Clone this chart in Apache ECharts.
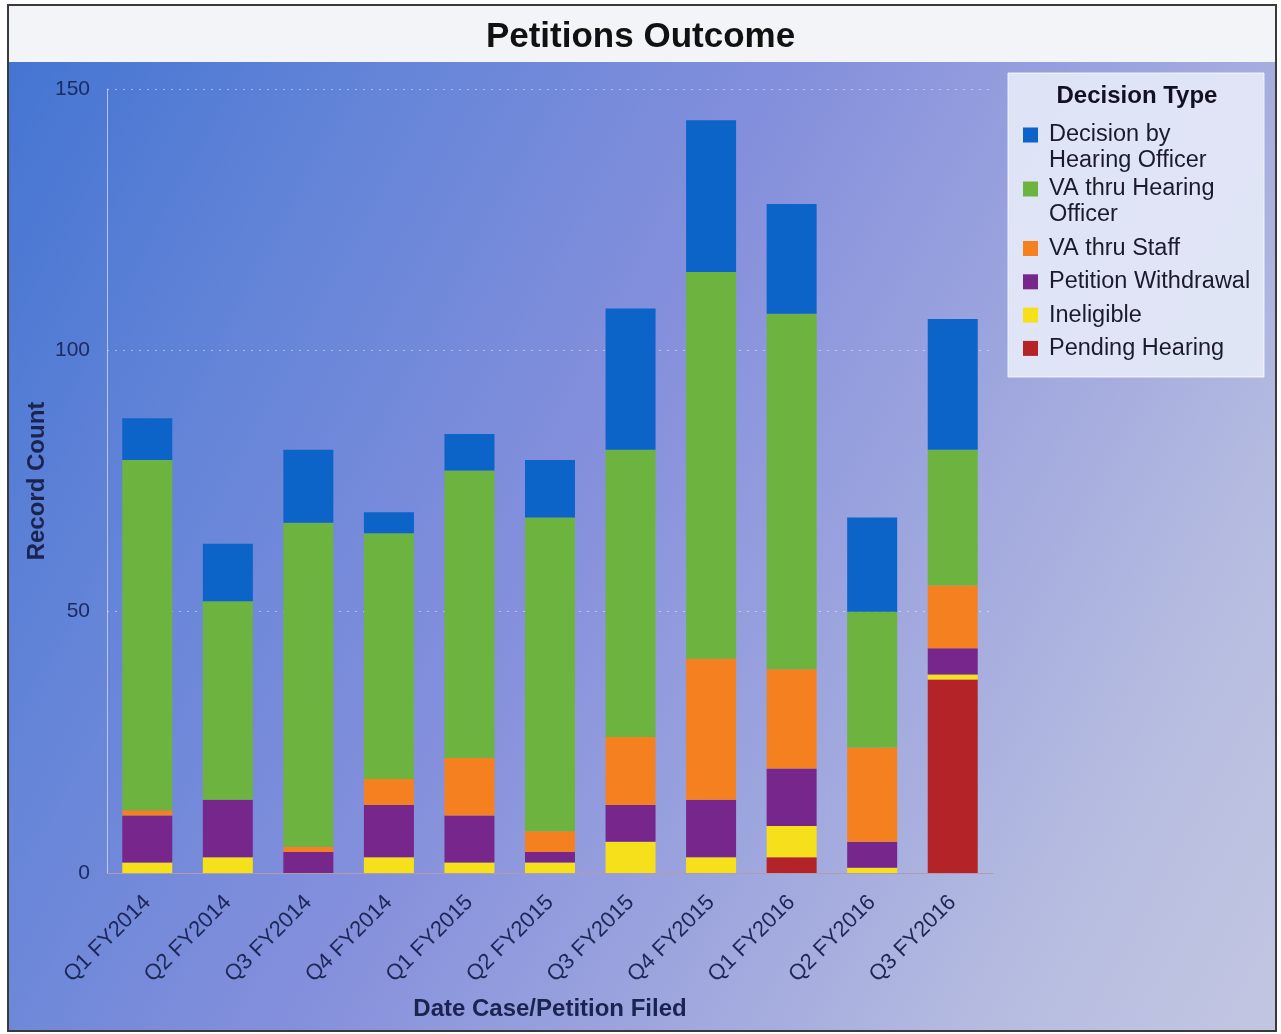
<!DOCTYPE html>
<html>
<head>
<meta charset="utf-8">
<script src="https://cdn.jsdelivr.net/npm/echarts@6/dist/echarts.min.js"></script>
<style>
  html, body { margin: 0; padding: 0; background: #ffffff; }
  #frame {
    position: absolute; left: 7px; top: 4px; width: 1266px; height: 1024px;
    border: 2px solid #3a3a3a;
    background:
      linear-gradient(#f3f4f7, #f3f4f7) 0 0 / 100% 56px no-repeat,
      linear-gradient(118deg, #4475d2 0%, #6585d8 22%, #8590dc 45%, #9ea6de 65%, #b7bde0 85%, #c2c6e2 100%) 0 56px / 100% 968px no-repeat;
  }
  #chart { position: absolute; left: 0; top: 0; width: 1281px; height: 1034px; }
</style>
</head>
<body>
<div id="frame"></div>
<div id="chart"></div>
<script>
const categories = ['Q1 FY2014','Q2 FY2014','Q3 FY2014','Q4 FY2014','Q1 FY2015','Q2 FY2015','Q3 FY2015','Q4 FY2015','Q1 FY2016','Q2 FY2016','Q3 FY2016'];
const pendingHearing     = [0, 0, 0, 0, 0, 0, 0, 0, 3, 0, 37];
const ineligible         = [2, 3, 0, 3, 2, 2, 6, 3, 6, 1, 1];
const petitionWithdrawal = [9, 11, 4, 10, 9, 2, 7, 11, 11, 5, 5];
const vaThruStaff        = [1, 0, 1, 5, 11, 4, 13, 27, 19, 18, 12];
const vaThruHearing      = [67, 38, 62, 47, 55, 60, 55, 74, 68, 26, 26];
const decisionByHearing  = [8, 11, 14, 4, 7, 11, 27, 29, 21, 18, 25];
const yTicks = [0, 50, 100, 150];

const FONT = "'Liberation Sans', Arial, sans-serif";
const names = {
  decision: 'Decision by Hearing Officer',
  vaHearing: 'VA thru Hearing Officer',
  vaStaff: 'VA thru Staff',
  withdrawal: 'Petition Withdrawal',
  ineligible: 'Ineligible',
  pending: 'Pending Hearing'
};
const colors = {
  decision: '#0c63c8',
  vaHearing: '#6db33f',
  vaStaff: '#f5801f',
  withdrawal: '#77268c',
  ineligible: '#f6e01c',
  pending: '#b42327'
};
const wrapped = {};
wrapped[names.decision] = 'Decision by\nHearing Officer';
wrapped[names.vaHearing] = 'VA thru Hearing\nOfficer';

function mk(key, data) {
  return {
    name: names[key], type: 'bar', stack: 'total', data: data,
    barWidth: 50,
    itemStyle: { color: colors[key] },
    emphasis: { disabled: true }
  };
}

const twoLineIcon = 'path://M0,0H15V15H0Z M0,40H15';
const legendText = { fontFamily: FONT, fontSize: 23.5, color: '#1b1b2c', padding: [0, 0, 0, 6] };

const chart = echarts.init(document.getElementById('chart'), null, { renderer: 'canvas' });
chart.setOption({
  backgroundColor: 'transparent',
  animation: false,
  title: {
    text: 'Petitions Outcome', left: 'center', top: 15,
    textStyle: { fontFamily: FONT, fontSize: 35, fontWeight: 'bold', color: '#111111' }
  },
  graphic: [
    { type: 'rect', z: 1, shape: { x: 1008, y: 73, width: 256, height: 304 },
      style: { fill: 'rgba(228,232,248,0.93)', stroke: 'rgba(255,255,255,0.8)', lineWidth: 1 } },
    { type: 'text', z: 2, style: { text: 'Decision Type', x: 1137, y: 96, align: 'center', verticalAlign: 'middle',
      fontFamily: FONT, fontSize: 24, fontWeight: 'bold', fill: '#111122' } }
  ],
  legend: [
    { data: [{ name: names.decision, icon: twoLineIcon }], orient: 'vertical', left: 1023, top: 121.5, padding: 0,
      itemWidth: 15, itemHeight: 40, itemStyle: { borderWidth: 0 },
      formatter: n => wrapped[n], textStyle: Object.assign({ lineHeight: 26 }, legendText), selectedMode: false },
    { data: [{ name: names.vaHearing, icon: twoLineIcon }], orient: 'vertical', left: 1023, top: 175.5, padding: 0,
      itemWidth: 15, itemHeight: 40, itemStyle: { borderWidth: 0 },
      formatter: n => wrapped[n], textStyle: Object.assign({ lineHeight: 26 }, legendText), selectedMode: false },
    { data: [names.vaStaff, names.withdrawal, names.ineligible, names.pending].map(n => ({ name: n, icon: 'rect' })),
      orient: 'vertical', left: 1023, top: 236.5, padding: 0, itemGap: 9.3,
      itemWidth: 15, itemHeight: 15, itemStyle: { borderWidth: 0 },
      textStyle: Object.assign({ lineHeight: 24 }, legendText), selectedMode: false }
  ],
  grid: { left: 107, right: 288, top: 89, bottom: 161, containLabel: false },
  xAxis: {
    type: 'category', data: categories,
    name: 'Date Case/Petition Filed', nameLocation: 'middle', nameGap: 124,
    nameTextStyle: { fontFamily: FONT, fontSize: 24, fontWeight: 'bold', color: '#1b2350' },
    axisLine: { show: true, lineStyle: { color: '#b39aae', width: 1 } },
    axisTick: { show: false },
    axisLabel: { rotate: 45, fontFamily: FONT, fontSize: 22, color: '#1d2757', margin: 26, interval: 0 },
    splitLine: { show: false }
  },
  yAxis: {
    type: 'value', min: yTicks[0], max: yTicks[yTicks.length - 1], interval: 50,
    name: 'Record Count', nameLocation: 'middle', nameGap: 58, nameMoveOverlap: false,
    nameTextStyle: { fontFamily: FONT, fontSize: 24, fontWeight: 'bold', color: '#1b2350' },
    axisLine: { show: true, lineStyle: { color: 'rgba(225,230,255,0.7)', width: 1 } },
    axisTick: { show: false },
    axisLabel: { fontFamily: FONT, fontSize: 21, color: '#1e2a62', margin: 17 },
    splitLine: { show: true, lineStyle: { color: 'rgba(255,255,255,0.45)', type: [2, 6], width: 1 } }
  },
  series: [
    mk('pending', pendingHearing),
    mk('ineligible', ineligible),
    mk('withdrawal', petitionWithdrawal),
    mk('vaStaff', vaThruStaff),
    mk('vaHearing', vaThruHearing),
    mk('decision', decisionByHearing)
  ]
});
</script>
</body>
</html>
